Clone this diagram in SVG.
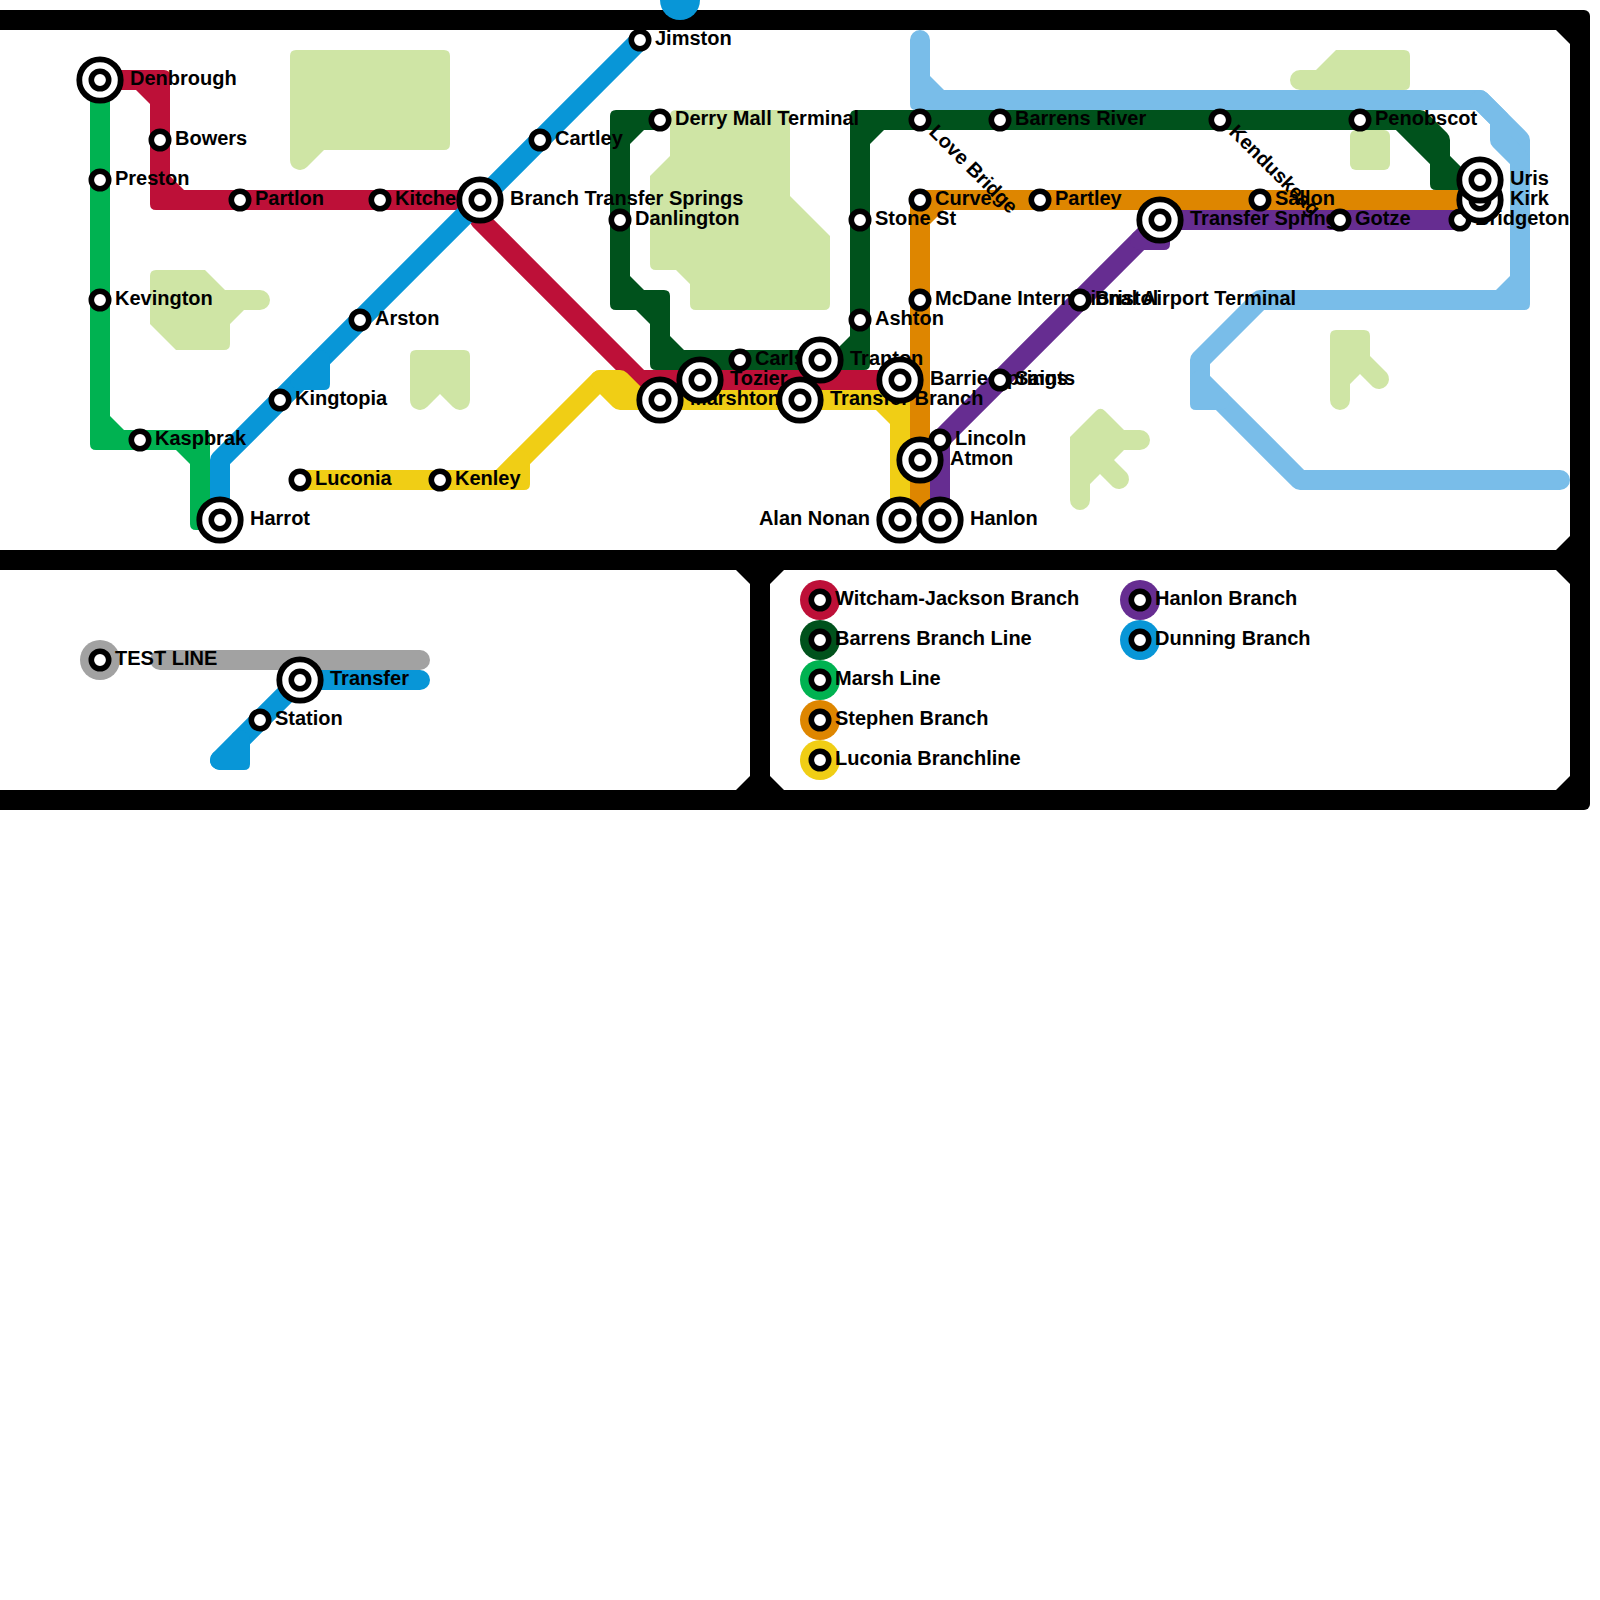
<svg xmlns="http://www.w3.org/2000/svg" width="1600" height="1600" viewBox="0 0 1600 1600">
<style>
text{font-family:"Liberation Sans",Arial,sans-serif;font-weight:700;font-size:20px;fill:#000}
.ln{fill:none;stroke-width:20;stroke-linecap:round;stroke-linejoin:round}
.park{fill:#cfe5a5}
.pan{fill:#fff}
.ring{fill:#fff;stroke:#000;stroke-width:5.8}
.dot{fill:#fff;stroke:#000;stroke-width:5.6}
.red{stroke:#bd1038}.rf{fill:#bd1038}
.dkg{stroke:#00521c}.df{fill:#00521c}
.grn{stroke:#00b251}.gf{fill:#00b251}
.org{stroke:#de8600}.of{fill:#de8600}
.yel{stroke:#f0ce15}.yf{fill:#f0ce15}
.pur{stroke:#662d91}.pf{fill:#662d91}
.blu{stroke:#0896d7}.bf{fill:#0896d7}
.lbl{stroke:#79bde9}.lf{fill:#79bde9}
.gry{stroke:#a2a2a2}.xf{fill:#a2a2a2}
</style>
<defs>
<path id="c" d="M-24,-10L4,-10Q10,-10 10,-4L10,24L-10,24L-24,10Z"/>
<path id="m" d="M0,-10L4,-10Q10,-10 10,-4L10,0L0,0Z"/>
<g id="s"><circle class="dot" r="8.7"/></g>
<g id="t"><circle class="ring" r="20.7"/><circle class="dot" r="8.7"/></g>
</defs>

<g id="frame">
<rect x="-20" y="10" width="1610" height="800" rx="6" fill="#000"/>
<polygon class="pan" points="-20,30 1556,30 1570,44 1570,536 1556,550 -20,550"/>
<polygon class="pan" points="-20,570 736,570 750,584 750,776 736,790 -20,790"/>
<polygon class="pan" points="784,570 1556,570 1570,584 1570,776 1556,790 784,790 770,776 770,584"/>
</g>

<g id="parks">
<path class="park" d="M296,50L444,50Q450,50 450,56L450,144Q450,150 444,150L324,150L307,167A10,10 0 0 1 290,160L290,56Q290,50 296,50Z"/>
<path class="park" d="M156,270L205,270L225,290L260,290A10,10 0 0 1 260,310L244,310L230,324L230,344Q230,350 224,350L176,350L150,324L150,276Q150,270 156,270Z"/>
<path class="park" d="M416,350L464,350Q470,350 470,356L470,400A10,10 0 0 1 453,407L440,394L427,407A10,10 0 0 1 410,400L410,356Q410,350 416,350Z"/>
<path class="park" d="M676,110L790,110L790,196L830,236L830,304Q830,310 824,310L696,310Q690,310 690,304L690,284L676,270L656,270Q650,270 650,264L650,176L670,156L670,116Q670,110 676,110Z"/>
<path class="park" d="M1336,50L1404,50Q1410,50 1410,56L1410,84Q1410,90 1404,90L1300,90A10,10 0 0 1 1300,70L1316,70Z"/>
<rect class="park" x="1350" y="130" width="40" height="40" rx="6"/>
<path class="park" d="M1336,330L1364,330Q1370,330 1370,336L1370,356L1387,373A10,10 0 0 1 1373,387L1360,374L1350,384L1350,400A10,10 0 0 1 1330,400L1330,336Q1330,330 1336,330Z"/>
<path class="park" d="M1070,437L1096,411Q1100.5,406.5 1105,411L1124,430L1140,430A10,10 0 0 1 1140,450L1124,450L1114,460L1127,473A10,10 0 0 1 1113,487L1100,474L1090,484L1090,500A10,10 0 0 1 1070,500Z"/>
</g>

<g id="connectors">
<path class="ln red" d="M100,80H160V200H480V220L640,380H900"/>
<use href="#c" class="rf" transform="translate(160,80)"/>
<use href="#c" class="rf" transform="translate(160,200) rotate(180)"/>

<path class="ln dkg" d="M660,120H620V300H660V360H860V120H1420L1440,140V180H1480"/>
<path class="ln dkg" d="M1400,120L1460,180"/>
<use href="#c" class="df" transform="translate(620,120) rotate(270)"/>
<use href="#c" class="df" transform="translate(620,300) rotate(180)"/>
<use href="#c" class="df" transform="translate(660,300)"/>
<use href="#c" class="df" transform="translate(660,360) rotate(180)"/>
<use href="#c" class="df" transform="translate(860,360) rotate(90)"/>
<use href="#c" class="df" transform="translate(860,120) rotate(270)"/>
<use href="#m" class="df" transform="translate(1440,180) rotate(180)"/>

<path class="ln grn" d="M100,80V440H200V520H220"/>
<use href="#c" class="gf" transform="translate(100,440) rotate(180)"/>
<use href="#c" class="gf" transform="translate(200,440)"/>
<use href="#m" class="gf" transform="translate(200,520) rotate(180)"/>

<path class="ln org" d="M920,520V200H1480"/>
<use href="#c" class="of" transform="translate(920,200) rotate(270)"/>

<path class="ln yel" d="M300,480H520V460L600,380H620L640,400H900V520"/>
<path class="ln yel" d="M600,380L620,400H640M520,460L500,480"/>
<use href="#m" class="yf" transform="translate(520,480) rotate(90)"/>
<use href="#c" class="yf" transform="translate(900,400)"/>

<path class="ln pur" d="M940,520V440L1160,220H1460"/>
<path class="ln pur" d="M1140,240H1160V220"/>
<use href="#m" class="pf" transform="translate(1160,240) rotate(90)"/>

<path class="ln blu" d="M640,40L220,460V520"/>
<path class="ln blu" d="M320,360V380H300"/>
<use href="#m" class="bf" transform="translate(320,380) rotate(90)"/>
<circle class="bf" cx="680" cy="0" r="20"/>

<path class="ln lbl" d="M920,40V100H1480L1520,140V300H1260L1200,360V400H1220L1300,480H1560"/>
<path class="ln lbl" d="M1480,100L1500,120V140L1520,160M1200,380L1220,400"/>
<use href="#c" class="lf" transform="translate(920,100) rotate(180)"/>
<use href="#c" class="lf" transform="translate(1520,300) rotate(90)"/>
<use href="#m" class="lf" transform="translate(1200,400) rotate(180)"/>

<path class="ln gry" d="M160,660H420"/>
<path class="ln blu" d="M420,680H300L220,760"/>
<path class="ln blu" d="M240,740V760H220"/>
<use href="#m" class="bf" transform="translate(240,760) rotate(90)"/>
</g>

<g id="stations">
<g id="n-denbrough"><text x="130" y="85">Denbrough</text><use href="#t" x="100" y="80"/></g>
<g id="n-bowers"><text x="175" y="145">Bowers</text><use href="#s" x="160" y="140"/></g>
<g id="n-preston"><text x="115" y="185">Preston</text><use href="#s" x="100" y="180"/></g>
<g id="n-kevington"><text x="115" y="305">Kevington</text><use href="#s" x="100" y="300"/></g>
<g id="n-kaspbrak"><text x="155" y="445">Kaspbrak</text><use href="#s" x="140" y="440"/></g>
<g id="n-partlon"><text x="255" y="205">Partlon</text><use href="#s" x="240" y="200"/></g>
<g id="n-kitche"><text x="395" y="205">Kitche</text><use href="#s" x="380" y="200"/></g>
<g id="n-branch-transfer-springs"><text x="510" y="205">Branch Transfer Springs</text><use href="#t" x="480" y="200"/></g>
<g id="n-harrot"><text x="250" y="525">Harrot</text><use href="#t" x="220" y="520"/></g>
<g id="n-luconia"><text x="315" y="485">Luconia</text><use href="#s" x="300" y="480"/></g>
<g id="n-kenley"><text x="455" y="485">Kenley</text><use href="#s" x="440" y="480"/></g>
<g id="n-kingtopia"><text x="295" y="405">Kingtopia</text><use href="#s" x="280" y="400"/></g>
<g id="n-arston"><text x="375" y="325">Arston</text><use href="#s" x="360" y="320"/></g>
<g id="n-cartley"><text x="555" y="145">Cartley</text><use href="#s" x="540" y="140"/></g>
<g id="n-jimston"><text x="655" y="45">Jimston</text><use href="#s" x="640" y="40"/></g>
<g id="n-derry"><text x="675" y="125">Derry Mall Terminal</text><use href="#s" x="660" y="120"/></g>
<g id="n-danlington"><text x="635" y="225">Danlington</text><use href="#s" x="620" y="220"/></g>
<g id="n-marshton"><text x="690" y="405">Marshton</text><use href="#t" x="660" y="400"/></g>
<g id="n-tozier"><text x="730" y="385">Tozier</text><use href="#t" x="700" y="380"/></g>
<g id="n-carls"><text x="755" y="365">Carls</text><use href="#s" x="740" y="360"/></g>
<g id="n-transfer-branch"><text x="830" y="405">Transfer Branch</text><use href="#t" x="800" y="400"/></g>
<g id="n-tranton"><text x="850" y="365">Tranton</text><use href="#t" x="820" y="360"/></g>
<g id="n-barrie"><text x="930" y="385">Barrie Springs</text><use href="#t" x="900" y="380"/></g>
<g id="n-saints"><text x="1015" y="385">Saints</text><use href="#s" x="1000" y="380"/></g>
<g id="n-stone"><text x="875" y="225">Stone St</text><use href="#s" x="860" y="220"/></g>
<g id="n-ashton"><text x="875" y="325">Ashton</text><use href="#s" x="860" y="320"/></g>
<g id="n-love"><text transform="translate(928,133) rotate(45)">Love Bridge</text><use href="#s" x="920" y="120"/></g>
<g id="n-barrens"><text x="1015" y="125">Barrens River</text><use href="#s" x="1000" y="120"/></g>
<g id="n-curve"><text x="935" y="205">Curve</text><use href="#s" x="920" y="200"/></g>
<g id="n-partley"><text x="1055" y="205">Partley</text><use href="#s" x="1040" y="200"/></g>
<g id="n-mcdane"><text x="935" y="305">McDane International Airport Terminal</text><use href="#s" x="920" y="300"/></g>
<g id="n-bristol"><text x="1095" y="305">Bristol</text><use href="#s" x="1080" y="300"/></g>
<g id="n-atmon"><text x="950" y="465">Atmon</text><use href="#t" x="920" y="460"/></g>
<g id="n-lincoln"><text x="955" y="445">Lincoln</text><use href="#s" x="940" y="440"/></g>
<g id="n-alan"><text x="870" y="525" text-anchor="end">Alan Nonan</text><use href="#t" x="900" y="520"/></g>
<g id="n-hanlon"><text x="970" y="525">Hanlon</text><use href="#t" x="940" y="520"/></g>
<g id="n-kenduskeag"><text transform="translate(1228,133) rotate(45)">Kenduskeag</text><use href="#s" x="1220" y="120"/></g>
<g id="n-penobscot"><text x="1375" y="125">Penobscot</text><use href="#s" x="1360" y="120"/></g>
<g id="n-sallon"><text x="1275" y="205">Sallon</text><use href="#s" x="1260" y="200"/></g>
<g id="n-transfer-springs"><text x="1190" y="225">Transfer Springs</text><use href="#t" x="1160" y="220"/></g>
<g id="n-gotze"><text x="1355" y="225">Gotze</text><use href="#s" x="1340" y="220"/></g>
<g id="n-bridgeton"><text x="1475" y="225">Bridgeton</text><use href="#s" x="1460" y="220"/></g>
<g id="n-kirk"><text x="1510" y="205">Kirk</text><use href="#t" x="1480" y="200"/></g>
<g id="n-uris"><text x="1510" y="185">Uris</text><use href="#t" x="1480" y="180"/></g>
<g id="n-test-line"><circle class="xf" cx="100" cy="660" r="20"/><text x="115" y="665">TEST LINE</text><use href="#s" x="100" y="660"/></g>
<g id="n-transfer"><text x="330" y="685">Transfer</text><use href="#t" x="300" y="680"/></g>
<g id="n-station"><text x="275" y="725">Station</text><use href="#s" x="260" y="720"/></g>
</g>

<g id="legend">
<g id="k-witcham"><circle class="rf" cx="820" cy="600" r="20"/><use href="#s" x="820" y="600"/><text x="835" y="605">Witcham-Jackson Branch</text></g>
<g id="k-barrens"><circle class="df" cx="820" cy="640" r="20"/><use href="#s" x="820" y="640"/><text x="835" y="645">Barrens Branch Line</text></g>
<g id="k-marsh"><circle class="gf" cx="820" cy="680" r="20"/><use href="#s" x="820" y="680"/><text x="835" y="685">Marsh Line</text></g>
<g id="k-stephen"><circle class="of" cx="820" cy="720" r="20"/><use href="#s" x="820" y="720"/><text x="835" y="725">Stephen Branch</text></g>
<g id="k-luconia"><circle class="yf" cx="820" cy="760" r="20"/><use href="#s" x="820" y="760"/><text x="835" y="765">Luconia Branchline</text></g>
<g id="k-hanlon"><circle class="pf" cx="1140" cy="600" r="20"/><use href="#s" x="1140" y="600"/><text x="1155" y="605">Hanlon Branch</text></g>
<g id="k-dunning"><circle class="bf" cx="1140" cy="640" r="20"/><use href="#s" x="1140" y="640"/><text x="1155" y="645">Dunning Branch</text></g>
</g>
</svg>
